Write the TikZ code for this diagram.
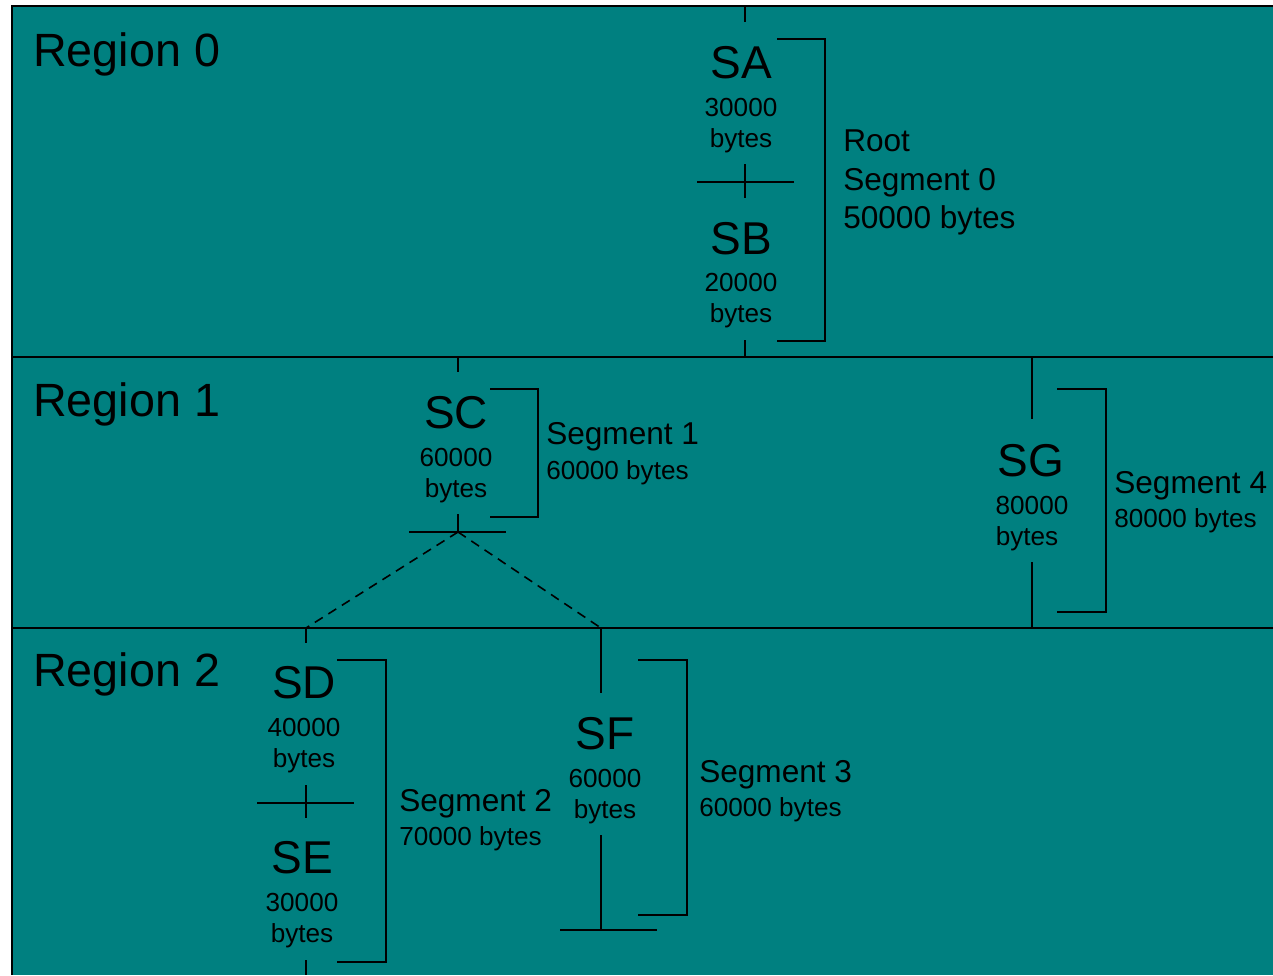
\documentclass[tikz,border=0pt]{standalone}
\usepackage{fontspec}
\setmainfont{Liberation Sans}
\definecolor{bg}{RGB}{0,128,128}
\begin{document}
\begin{tikzpicture}[x=0.75pt,y=-0.75pt,
  ln/.style={line width=1.5pt,black},
  reg/.style={anchor=base west,inner sep=0pt,font=\fontsize{35}{40}\selectfont},
  sname/.style={anchor=base,inner sep=0pt,font=\fontsize{34.5}{40}\selectfont},
  ssize/.style={anchor=base,inner sep=0pt,font=\fontsize{19.6}{23}\selectfont},
  segt/.style={anchor=base west,inner sep=0pt,font=\fontsize{23.7}{28}\selectfont},
  segs/.style={anchor=base west,inner sep=0pt,font=\fontsize{19.6}{23}\selectfont},
  bigs/.style={anchor=base west,inner sep=0pt,font=\fontsize{23.7}{28}\selectfont}]
\useasboundingbox (0,0) rectangle (1273,975);
\fill[bg] (12,6) rectangle (1273,975);
\draw[ln] (12,975) -- (12,6) -- (1273,6);
\draw[ln] (12,357) -- (1273,357);
\draw[ln] (12,628) -- (1273,628);

% region labels
\node[reg] (r0) at (33,66) {Region 0};
\node[reg] (r1) at (33,416) {Region 1};
\node[reg] (r2) at (33,686) {Region 2};

% ---------- Region 0 : SA / SB
\node[sname] (SA) at (741,78) {SA};
\node[ssize] (SAs) at (741,116) {30000};
\node[ssize] (SAb) at (741,147) {bytes};
\node[sname] (SB) at (741,254) {SB};
\node[ssize] (SBs) at (741,291) {20000};
\node[ssize] (SBb) at (741,322) {bytes};
\coordinate (a0) at (745,6);
\coordinate (a1) at (745,22);
\coordinate (b1) at (745,340);
\coordinate (b0) at (745,357);
\draw[ln] (a0) -- (a1);
\draw[ln] (697,182) -- (794,182);
\draw[ln] (745,164) -- (745,198);
\draw[ln] (b1) -- (b0);
\draw[ln] (777,39) -- (825,39) -- (825,341) -- (777,341);
\node[bigs] (seg0a) at (843,151) {Root};
\node[bigs] (seg0b) at (843,190) {Segment 0};
\node[bigs] (seg0c) at (843,228) {50000 bytes};

% ---------- Region 1 : SC
\node[sname] (SC) at (456,428) {SC};
\node[ssize] (SCs) at (456,466) {60000};
\node[ssize] (SCb) at (456,497) {bytes};
\coordinate (c0) at (458,357);
\coordinate (c1) at (458,372);
\coordinate (c2) at (458,514);
\coordinate (c3) at (458,532);
\draw[ln] (c0) -- (c1);
\draw[ln] (c2) -- (c3);
\draw[ln] (409,532) -- (506,532);
\draw[ln] (490,389) -- (538,389) -- (538,517) -- (490,517);
\node[segt] (seg1a) at (546,444) {Segment 1};
\node[segs] (seg1b) at (546,479) {60000 bytes};

% ---------- SG
\node[sname] (SG) at (1031,476) {SG};
\node[ssize] (SGs) at (1032,514) {80000};
\node[ssize] (SGb) at (1027,545) {bytes};
\draw[ln] (1032,357) -- (1032,419);
\draw[ln] (1032,562) -- (1032,628);
\draw[ln] (1057,389) -- (1106,389) -- (1106,612) -- (1057,612);
\node[segt] (seg4a) at (1114,493) {Segment 4};
\node[segs] (seg4b) at (1114,527) {80000 bytes};

% ---------- Region 2 : SD / SE
\node[sname] (SD) at (304,698) {SD};
\node[ssize] (SDs) at (304,736) {40000};
\node[ssize] (SDb) at (304,767) {bytes};
\node[sname] (SE) at (302,873) {SE};
\node[ssize] (SEs) at (302,911) {30000};
\node[ssize] (SEb) at (302,942) {bytes};
\coordinate (d0) at (306,628);
\coordinate (d1) at (306,643);
\draw[ln] (d0) -- (d1);
\draw[ln] (257,803) -- (354,803);
\draw[ln] (306,785) -- (306,818);
\draw[ln] (306,960) -- (306,975);
\draw[ln] (337,660) -- (386,660) -- (386,962) -- (337,962);
\node[segt] (seg2a) at (399,811) {Segment 2};
\node[segs] (seg2b) at (399,845) {70000 bytes};

% ---------- SF
\node[sname] (SF) at (605,749) {SF};
\node[ssize] (SFs) at (605,787) {60000};
\node[ssize] (SFb) at (605,818) {bytes};
\coordinate (f0) at (601,628);
\draw[ln] (f0) -- (601,693);
\draw[ln] (601,835) -- (601,930);
\draw[ln] (560,930) -- (657,930);
\draw[ln] (638,660) -- (687,660) -- (687,915) -- (638,915);
\node[segt] (seg3a) at (699,782) {Segment 3};
\node[segs] (seg3b) at (699,816) {60000 bytes};

% dashed links
\draw[ln,dashed,dash pattern=on 7pt off 5pt,line width=1.2pt] (c3) -- (d0);
\draw[ln,dashed,dash pattern=on 7pt off 5pt,line width=1.2pt] (c3) -- (f0);
\end{tikzpicture}
\end{document}
